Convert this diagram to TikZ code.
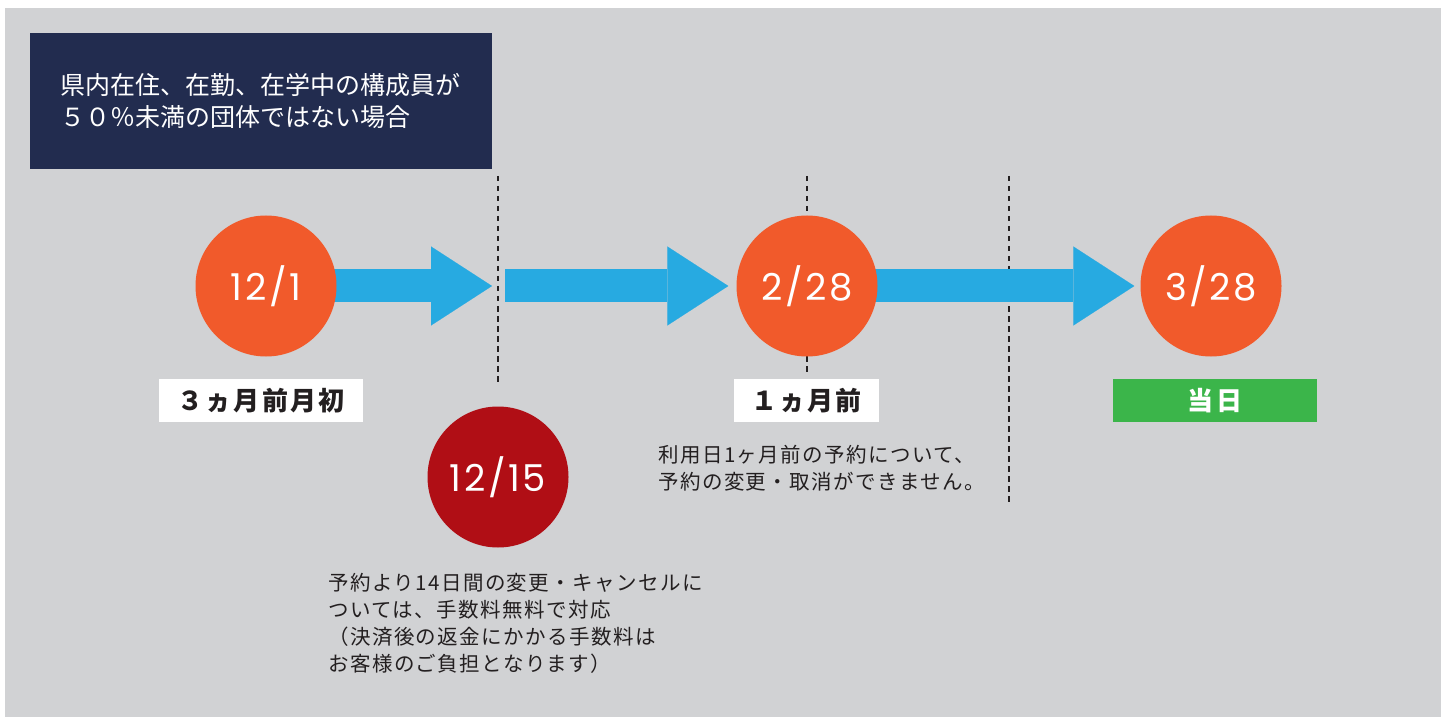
\documentclass[tikz,border=0pt]{standalone}
\usepackage{fontspec}
\setmainfont{Noto Sans CJK JP}
\newfontfamily\notefont{Noto Sans CJK JP}[LetterSpace=7]
\newfontfamily\labelfont{Noto Sans CJK JP}[LetterSpace=8]
\newfontfamily\datefont{Poppins}[LetterSpace=7]
\usepackage{xcolor}
\usetikzlibrary{arrows.meta,positioning}
\pgfdeclarelayer{background}
\pgfsetlayers{background,main}
\definecolor{bggray}{HTML}{D1D2D4}
\definecolor{navy}{HTML}{222C4F}
\definecolor{dateorange}{HTML}{F15A2B}
\definecolor{datered}{HTML}{B00E15}
\definecolor{arrowblue}{HTML}{27AAE1}
\definecolor{okgreen}{HTML}{3BB54A}
\definecolor{inkdark}{HTML}{231F20}
\tikzset{
	datecircle/.style={circle, fill=dateorange, text=white, minimum size=141pt, inner sep=0pt, font=\datefont\fontsize{37}{37}\selectfont},
	labelbox/.style={rectangle, fill=white, text=inkdark, minimum height=43pt, inner sep=0pt, font=\labelfont\bfseries\fontsize{26}{26}\selectfont},
	notetext/.style={anchor=north west, align=left, inner sep=0pt, text=inkdark, font=\notefont\fontsize{20.5}{27}\selectfont},
	fatarrow/.style={draw=arrowblue, line width=33pt, -{Triangle[length=61pt, width=79pt, line width=0.1pt]}},
	cutline/.style={draw=inkdark, line width=2.4pt, dash pattern=on 5.5pt off 4.5pt}
}

\begin{document}
\begin{tikzpicture}[x=1pt, y=-1pt]
		\useasboundingbox (0,0) rectangle (1448,719);
		
		\node[fill=navy, text=white, anchor=north west, minimum width=462pt, minimum height=136pt, inner xsep=30pt, text width=402pt, align=left, font=\fontsize{25}{32}\selectfont] at (30,33) (cond) {県内在住、在勤、在学中の構成員が\\５０％未満の団体ではない場合};
		
		\node[datecircle] at (266,286) (d121) {12/1};
		\node[datecircle, fill=datered] at (498,477) (d1215) {12/15};
		\node[datecircle] at (807,286) (d228) {2/28};
		\node[datecircle] at (1211,286) (d328) {3/28};
		
		\coordinate (cut1top) at (498,176);
		\coordinate (cut1bot) at (498,386);
		\coordinate (cut2top) at (807,176);
		\coordinate (cut2bot) at (807,373);
		\coordinate (cut3top) at (1009,176);
		\coordinate (cut3bot) at (1009,502);
		
		\node[labelbox, minimum width=204pt] at (261,400.5) (early) {３ヵ月前月初};
		\node[labelbox, minimum width=145pt] at (806.5,400.5) (month) {１ヵ月前};
		\node[labelbox, minimum width=204pt, fill=okgreen, text=white] at (1215,400.5) (today) {当日};
		
		\node[notetext] at (328,573) (note1215) {予約より14日間の変更・キャンセルに\\ついては、手数料無料で対応\\（決済後の返金にかかる手数料は\\お客様のご負担となります）};
		\node[notetext] at (658,445) (note228) {利用日1ヶ月前の予約について、\\予約の変更・取消ができません。};
		
		%Arrows
		\begin{pgfonlayer}{background}
			\fill[bggray] (5,8) rectangle (1441,717);
			\draw[cutline] (cut1top) -- (cut1bot);
			\draw[cutline] (cut2top) -- (cut2bot);
			\draw[cutline] (cut3top) -- (cut3bot);
			\draw[fatarrow] (d121.center) -- ([xshift=-6pt]cut1top |- d121);
			\draw[fatarrow] ([xshift=7pt]cut1top |- d121) -- ([xshift=-8pt]d228.west);
			\draw[fatarrow] (d228.center) -- ([xshift=-6pt]d328.west);
		\end{pgfonlayer}
		
	\end{tikzpicture}
\end{document}
